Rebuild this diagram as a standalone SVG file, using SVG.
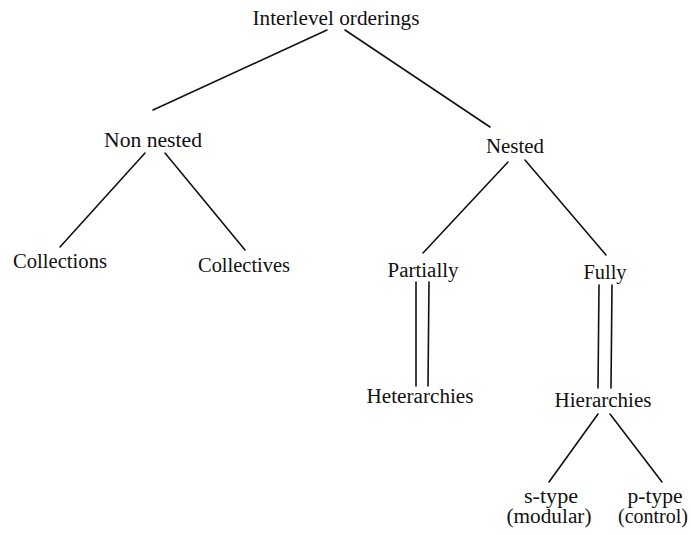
<svg xmlns="http://www.w3.org/2000/svg" width="691" height="535" viewBox="0 0 691 535">
  <style>
    .lbl { font-family: "Liberation Serif", "DejaVu Serif", serif; font-size: 20px; fill: #111; text-anchor: middle; }
    .edge { stroke: #111; stroke-width: 1.6; fill: none; stroke-linecap: round; }
  </style>
  <rect width="691" height="535" fill="#fff"/>

  <g id="connectors">
    <!-- Interlevel orderings -> Non nested / Nested -->
    <line class="edge" x1="327" y1="30" x2="153" y2="110"/>
    <line class="edge" x1="345" y1="30" x2="490" y2="127"/>
    <!-- Non nested -> Collections / Collectives -->
    <line class="edge" x1="145" y1="153" x2="60" y2="247"/>
    <line class="edge" x1="165" y1="153" x2="245" y2="250"/>
    <!-- Nested -> Partially / Fully -->
    <line class="edge" x1="508" y1="162" x2="423" y2="253"/>
    <line class="edge" x1="525" y1="160" x2="606" y2="255"/>
    <!-- Partially = Heterarchies (double rule) -->
    <line class="edge" x1="416" y1="282" x2="416" y2="386"/>
    <line class="edge" x1="429" y1="282" x2="428" y2="386"/>
    <!-- Fully = Hierarchies (double rule) -->
    <line class="edge" x1="599" y1="285" x2="598" y2="388"/>
    <line class="edge" x1="612" y1="285" x2="611" y2="388"/>
    <!-- Hierarchies -> s-type / p-type -->
    <line class="edge" x1="598" y1="414" x2="549" y2="482"/>
    <line class="edge" x1="610" y1="414" x2="662" y2="482"/>
  </g>

  <g id="n-root"><text class="lbl" x="336" y="25" textLength="167" lengthAdjust="spacingAndGlyphs">Interlevel orderings</text></g>
  <g id="n-nonnested"><text class="lbl" x="153" y="147" textLength="98" lengthAdjust="spacingAndGlyphs">Non nested</text></g>
  <g id="n-nested"><text class="lbl" x="515" y="153" textLength="58" lengthAdjust="spacingAndGlyphs">Nested</text></g>
  <g id="n-collections"><text class="lbl" x="60" y="268" textLength="94" lengthAdjust="spacingAndGlyphs">Collections</text></g>
  <g id="n-collectives"><text class="lbl" x="244" y="272" textLength="92" lengthAdjust="spacingAndGlyphs">Collectives</text></g>
  <g id="n-partially"><text class="lbl" x="423" y="277" textLength="71" lengthAdjust="spacingAndGlyphs">Partially</text></g>
  <g id="n-fully"><text class="lbl" x="605" y="279" textLength="43" lengthAdjust="spacingAndGlyphs">Fully</text></g>
  <g id="n-heterarchies"><text class="lbl" x="420" y="403" textLength="107" lengthAdjust="spacingAndGlyphs">Heterarchies</text></g>
  <g id="n-hierarchies"><text class="lbl" x="603" y="407" textLength="97" lengthAdjust="spacingAndGlyphs">Hierarchies</text></g>
  <g id="n-stype">
    <text class="lbl" x="551" y="503" textLength="54" lengthAdjust="spacingAndGlyphs">s-type</text>
    <text class="lbl" x="549" y="523" textLength="85" lengthAdjust="spacingAndGlyphs">(modular)</text>
  </g>
  <g id="n-ptype">
    <text class="lbl" x="655" y="503" textLength="55" lengthAdjust="spacingAndGlyphs">p-type</text>
    <text class="lbl" x="653" y="523" textLength="70" lengthAdjust="spacingAndGlyphs">(control)</text>
  </g>
</svg>
